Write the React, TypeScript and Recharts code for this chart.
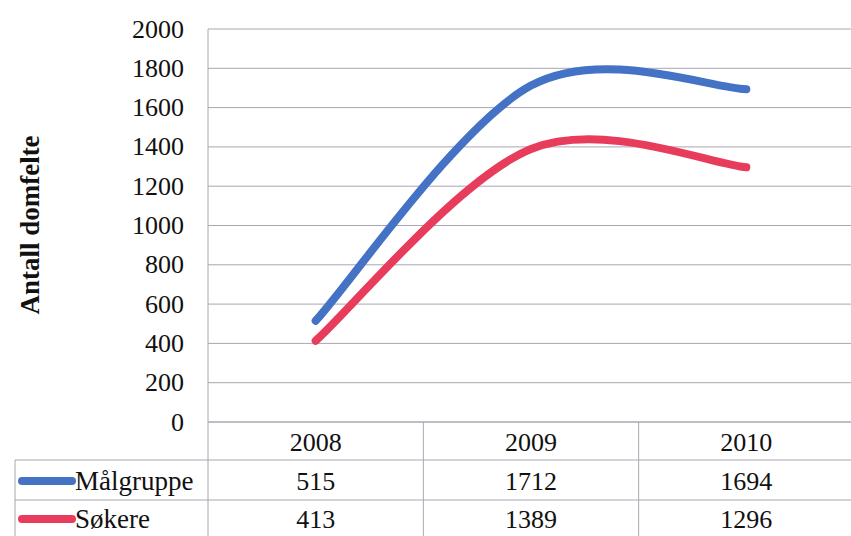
import { CartesianGrid, Customized, Line, LineChart, XAxis, YAxis } from "recharts";

const years = ["2008", "2009", "2010"];
const malgruppe = [515, 1712, 1694];
const sokere = [413, 1389, 1296];
const yTicks = [0, 200, 400, 600, 800, 1000, 1200, 1400, 1600, 1800, 2000];

const series = [
  { key: "malgruppe", name: "Målgruppe", values: malgruppe, color: "#4472c4" },
  { key: "sokere", name: "Søkere", values: sokere, color: "#e83c5c" },
];

const data = years.map((year, i) => ({
  year,
  malgruppe: malgruppe[i],
  sokere: sokere[i],
}));

const FONT = "'Liberation Serif', 'Times New Roman', serif";
const GRID = "#aaa6b2";
const PLOT_LEFT = 208;
const PLOT_RIGHT = 854;
const COL_W = (PLOT_RIGHT - PLOT_LEFT) / years.length;
const ROW1 = 460;
const ROW2 = 500;
const BOTTOM = 536;

const textStyle = { fontFamily: FONT, fontSize: 26, fill: "#111" };

// Excel-style "smoothed line": Catmull-Rom through the points, as a d3 curve factory
const excelSmooth = (context: any) => {
  let pts: [number, number][] = [];
  return {
    areaStart() {},
    areaEnd() {},
    lineStart() {
      pts = [];
    },
    lineEnd() {
      if (!pts.length) return;
      context.moveTo(pts[0][0], pts[0][1]);
      for (let i = 0; i < pts.length - 1; i++) {
        const p0 = pts[Math.max(i - 1, 0)];
        const p1 = pts[i];
        const p2 = pts[i + 1];
        const p3 = pts[Math.min(i + 2, pts.length - 1)];
        context.bezierCurveTo(
          p1[0] + (p2[0] - p0[0]) / 6,
          p1[1] + (p2[1] - p0[1]) / 6,
          p2[0] - (p3[0] - p1[0]) / 6,
          p2[1] - (p3[1] - p1[1]) / 6,
          p2[0],
          p2[1]
        );
      }
    },
    point(x: number, y: number) {
      pts.push([+x, +y]);
    },
  };
};

// x axis tick draws the whole data table column for one year
const TableTick = (props: any) => {
  const { x, y, payload, index } = props;
  const half = COL_W / 2;
  return (
    <g>
      {index === 0 && (
        <line x1={x - half} x2={x - half} y1={y} y2={BOTTOM} stroke={GRID} />
      )}
      <line x1={x + half} x2={x + half} y1={y} y2={BOTTOM} stroke={GRID} />
      <text x={x} y={y + 20} textAnchor="middle" dominantBaseline="central" style={textStyle}>
        {payload.value}
      </text>
      {series.map((s, i) => (
        <text
          key={s.key}
          x={x}
          y={i === 0 ? ROW1 + 21 : ROW2 + 19}
          textAnchor="middle"
          dominantBaseline="central"
          style={textStyle}
        >
          {s.values[index]}
        </text>
      ))}
    </g>
  );
};

const YTick = (props: any) => {
  const { x, y, payload } = props;
  return (
    <text x={x} y={y} textAnchor="end" dominantBaseline="central" style={textStyle}>
      {payload.value}
    </text>
  );
};

const TableFrame = () => (
  <g>
    <line x1={15} x2={870} y1={ROW1} y2={ROW1} stroke={GRID} />
    <line x1={15} x2={870} y1={ROW2} y2={ROW2} stroke={GRID} />
    <line x1={15} x2={15} y1={ROW1} y2={BOTTOM} stroke={GRID} />
    {series.map((s, i) => {
      const cy = i === 0 ? ROW1 + 21 : ROW2 + 19;
      return (
        <g key={s.key}>
          <line x1={22} x2={72} y1={cy} y2={cy} stroke={s.color} strokeWidth={8} strokeLinecap="round" />
          <text x={75} y={cy} dominantBaseline="central" style={{ ...textStyle, fontSize: 27 }}>
            {s.name}
          </text>
        </g>
      );
    })}
    <text
      x={30}
      y={225}
      transform="rotate(-90 30 225)"
      textAnchor="middle"
      dominantBaseline="central"
      style={{ ...textStyle, fontSize: 27, fontWeight: "bold" }}
    >
      Antall domfelte
    </text>
  </g>
);

export default function App() {
  return (
    <div
      style={{
        position: "absolute",
        left: 0,
        top: 0,
        width: 851,
        height: 536,
        overflow: "hidden",
        background: "#fff",
        fontFamily: FONT,
      }}
    >
      <LineChart
        width={870}
        height={536}
        data={data}
        margin={{ top: 29, right: 870 - PLOT_RIGHT, bottom: 0, left: 0 }}
      >
        <CartesianGrid vertical={false} stroke={GRID} />
        <XAxis
          dataKey="year"
          height={536 - 422}
          padding={{ left: COL_W / 2, right: COL_W / 2 }}
          axisLine={{ stroke: GRID }}
          tickLine={false}
          tickSize={0}
          tickMargin={0}
          interval={0}
          tick={<TableTick />}
        />
        <YAxis
          width={PLOT_LEFT}
          domain={[0, 2000]}
          ticks={yTicks}
          interval={0}
          axisLine={{ stroke: GRID }}
          tickLine={false}
          tickSize={0}
          tickMargin={24}
          tick={<YTick />}
        />
        {series.map((s) => (
          <Line
            key={s.key}
            type={excelSmooth as any}
            dataKey={s.key}
            name={s.name}
            stroke={s.color}
            strokeWidth={8}
            strokeLinecap="round"
            dot={false}
            activeDot={false}
            isAnimationActive={false}
          />
        ))}
        <Customized component={TableFrame} />
      </LineChart>
    </div>
  );
}
